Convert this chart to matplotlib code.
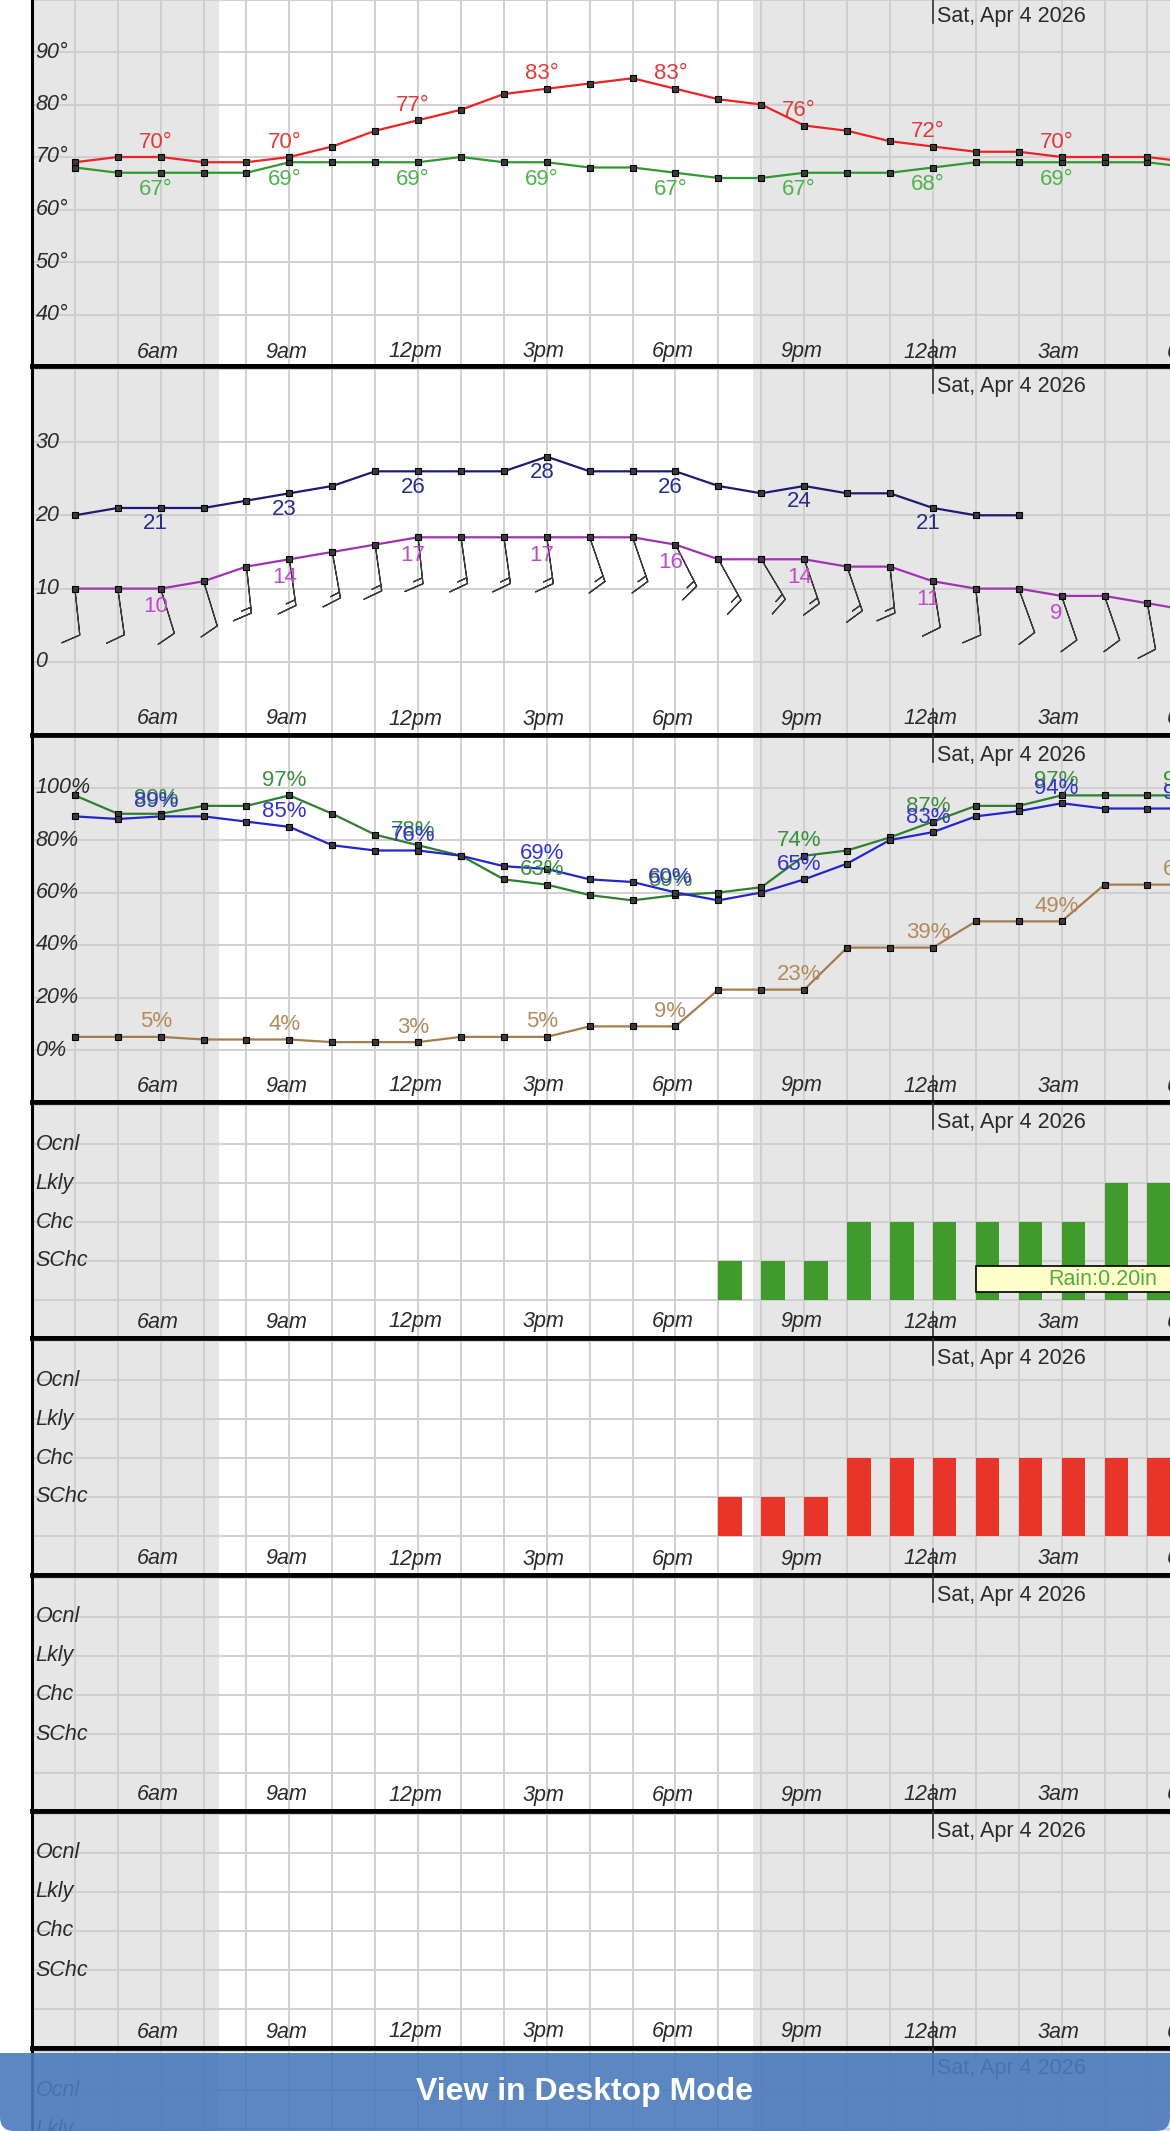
import numpy as np
import matplotlib
matplotlib.use("Agg")
import matplotlib.pyplot as plt
from matplotlib.path import Path
from matplotlib.patches import PathPatch, Rectangle

plt.rcParams['font.family'] = ['Liberation Sans', 'DejaVu Sans']

# hourly values, hour of day (24 = midnight), 4am .. 6am next day
hours = list(range(4, 31))
temp = [69, 70, 70, 69, 69, 70, 72, 75, 77, 79, 82, 83, 84, 85, 83, 81, 80, 76, 75, 73, 72, 71, 71, 70, 70, 70, 69]
dewpt = [68, 67, 67, 67, 67, 69, 69, 69, 69, 70, 69, 69, 68, 68, 67, 66, 66, 67, 67, 67, 68, 69, 69, 69, 69, 69, 68]
gust_hours = list(range(4, 27))
gust = [20, 21, 21, 21, 22, 23, 24, 26, 26, 26, 26, 28, 26, 26, 26, 24, 23, 24, 23, 23, 21, 20, 20]
wind = [10, 10, 10, 11, 13, 14, 15, 16, 17, 17, 17, 17, 17, 17, 16, 14, 14, 14, 13, 13, 11, 10, 10, 9, 9, 8, 7]
wind_dir = [174, 172, 163, 163, 174, 172, 170, 172, 174, 172, 172, 172, 161, 161, 153, 151, 149, 161, 161, 174, 171, 174, 160, 161, 161, 170, 170]
rh = [97, 90, 90, 93, 93, 97, 90, 82, 78, 74, 65, 63, 59, 57, 59, 60, 62, 74, 76, 81, 87, 93, 93, 97, 97, 97, 97]
sky = [89, 88, 89, 89, 87, 85, 78, 76, 76, 74, 70, 69, 65, 64, 60, 57, 60, 65, 71, 80, 83, 89, 91, 94, 92, 92, 92]
pop = [5, 5, 5, 4, 4, 4, 3, 3, 3, 5, 5, 5, 9, 9, 9, 23, 23, 23, 39, 39, 39, 49, 49, 49, 63, 63, 63]

precip_hours = list(range(19, 30))
rain_level = [1, 1, 1, 2, 2, 2, 2, 2, 2, 3, 3]
thunder_level = [1, 1, 1, 2, 2, 2, 2, 2, 2, 2, 2]
rain_total = "Rain:0.20in"
chance_names = ["SChc", "Chc", "Lkly", "Ocnl"]

tick_hours = [6, 9, 12, 15, 18, 21, 24, 27, 30]
tick_names = ["6am", "9am", "12pm", "3pm", "6pm", "9pm", "12am", "3am", "6am"]
temp_ticks = [40, 50, 60, 70, 80, 90]
wind_ticks = [0, 10, 20, 30]
pct_ticks = [0, 20, 40, 60, 80, 100]
night = [(3, 7.35), (19.8, 31)]
date_text = "Sat, Apr 4 2026"
midnight = 24

W, H = 1170, 2131
X0 = 32
PX_PER_HOUR = 42.9
edges = [-4, 366, 735, 1102, 1338, 1575, 1811, 2048, 2290]
TXT = '#2a2a2a'
GRID = '#cdcdcd'

fig = plt.figure(figsize=(W / 100, H / 100), dpi=100)


def make_panel(i, ref_px, ref_val, ppu, yticks, lab_px=16):
    top, bot = edges[i], edges[i + 1]
    ax = fig.add_axes([X0 / W, 1 - bot / H, (W - X0) / W, (bot - top) / H])
    ax.set_xticks(range(3, 31))
    ax.set_yticks(yticks)
    # limits after the ticks, so the ticks do not widen the view
    ax.set_xlim(3, 3 + (W - X0) / PX_PER_HOUR)
    ax.set_ylim(ref_val - (bot - ref_px) / ppu, ref_val + (ref_px - top) / ppu)
    ax.grid(True, color=GRID, lw=1.3)
    ax.set_axisbelow(True)
    ax.tick_params(length=0, labelbottom=False, labelleft=False)
    for s in ['top', 'bottom']:
        ax.spines[s].set_linewidth(3.4)
        ax.spines[s].set_color('black')
    ax.spines['left'].set_linewidth(2.2)
    ax.spines['right'].set_visible(False)
    for a, b in night:
        ax.axvspan(a, b, color='#e6e6e6', zorder=0.1, lw=0)
    ylo, yhi = ax.get_ylim()
    # hour labels along the bottom
    for h, name in zip(tick_hours, tick_names):
        ax.text(h - 3 / PX_PER_HOUR, ylo + lab_px / ppu, name, ha='center', va='center',
                fontsize=15.5, style='italic', color=TXT, clip_on=False)
    # date marker at midnight
    ax.plot([midnight, midnight], [yhi, yhi - 27 / ppu], color='#333', lw=1.2, zorder=4)
    ax.plot([midnight, midnight], [ylo, ylo + 26 / ppu], color='#333', lw=1.2, zorder=4)
    ax.text(midnight + 0.09, yhi - 10 / ppu, date_text, ha='left', va='top', fontsize=15.5,
            color=TXT, zorder=4)
    return ax


def ylabels(ax, vals, names):
    for v, n in zip(vals, names):
        ax.text(0.003, v, n, transform=ax.get_yaxis_transform(), ha='left', va='center',
                fontsize=15.5, style='italic', color=TXT, zorder=4)


def series(ax, xs, ys, color):
    ax.plot(xs, ys, color=color, lw=1.6, marker='s', ms=5, mfc='#3a3a3a', mec='black',
            mew=0.8, zorder=3)


def values(ax, xs, ys, fmt, color, dy):
    for x, y in zip(xs, ys):
        if x % 3 == 0:
            ax.annotate(fmt.format(y), (x, y), xytext=(-5, dy), textcoords='offset pixels',
                        ha='center', va='center', fontsize=16, color=color,
                        annotation_clip=False, zorder=5)


# temperature / dew point
ax1 = make_panel(0, 52, 90, 5.25, temp_ticks + [100], lab_px=14)
ylabels(ax1, temp_ticks, [f"{t}°" for t in temp_ticks])
series(ax1, hours, dewpt, '#2f9a2f')
series(ax1, hours, temp, '#ee2222')
values(ax1, hours, temp, "{}°", '#e03a3a', 15)
values(ax1, hours, dewpt, "{}°", '#4fb24f', -17)

# wind speed, gusts and barbs
ax2 = make_panel(1, 442, 30, 7.33, wind_ticks + [40])
ylabels(ax2, wind_ticks, [str(t) for t in wind_ticks])
series(ax2, gust_hours, gust, '#1c1c70')
series(ax2, hours, wind, '#a033b0')
values(ax2, gust_hours, gust, "{}", '#2b2b8c', -16)
values(ax2, hours, wind, "{}", '#c04acc', -18)
d = np.radians(wind_dir)
spd = np.array(wind)
ax2.barbs(hours, wind, -spd * np.sin(d), -spd * np.cos(d), length=8.2, pivot='tip',
          barbcolor='#3a3a3a', flagcolor='#3a3a3a', linewidth=0.9, zorder=2.5)

# humidity / sky cover / precip potential
ax3 = make_panel(2, 787.5, 100, 2.625, pct_ticks + [120])
ylabels(ax3, pct_ticks, [f"{t}%" for t in pct_ticks])
series(ax3, hours, pop, '#a57c4d')
series(ax3, hours, rh, '#2e7f2e')
series(ax3, hours, sky, '#2424d0')
values(ax3, hours, pop, "{}%", '#b38a5c', 15)
values(ax3, hours, rh, "{}%", '#3b8f3b', 15)
values(ax3, hours, sky, "{}%", '#3434cc', 15)

# chance panels
levels = [1, 2, 3, 4]
bar_axes = []
for i in range(3, 8):
    ax = make_panel(i, edges[i] + 198, 0, 39, [0] + levels + [5])
    ylabels(ax, levels, chance_names)
    bar_axes.append(ax)

bar_axes[0].bar(precip_hours, rain_level, width=0.55, align='edge', color='#419a2c', zorder=3)
bar_axes[0].add_patch(Rectangle((25.0, 0.21), 6, 0.67, facecolor='#ffffcc', edgecolor='black',
                                lw=1.2, zorder=5))
bar_axes[0].text(27.95, 0.52, rain_total, ha='center', va='center', fontsize=15.5,
                 color='#55aa44', zorder=6)
bar_axes[1].bar(precip_hours, thunder_level, width=0.55, align='edge', color='#e8352a', zorder=3)

# "View in Desktop Mode" banner
r, b0, b1 = 14, 2053, 2131
pts = [(0, b0), (W, b0), (W, b1 - r), (W, b1), (W - r, b1), (r, b1), (0, b1), (0, b1 - r), (0, b0)]
verts = [(x / W, 1 - y / H) for x, y in pts]
codes = [Path.MOVETO, Path.LINETO, Path.LINETO, Path.CURVE3, Path.CURVE3, Path.LINETO,
         Path.CURVE3, Path.CURVE3, Path.CLOSEPOLY]
fig.patches.append(PathPatch(Path(verts, codes), transform=fig.transFigure, facecolor='#4a7aba',
                             alpha=0.9, lw=0, zorder=10))
fig.text(0.5, 1 - 2092 / H, "View in Desktop Mode", ha='center', va='center', color='white',
         fontsize=23, fontweight='bold', zorder=11)

fig.savefig("out.png", dpi=100)
